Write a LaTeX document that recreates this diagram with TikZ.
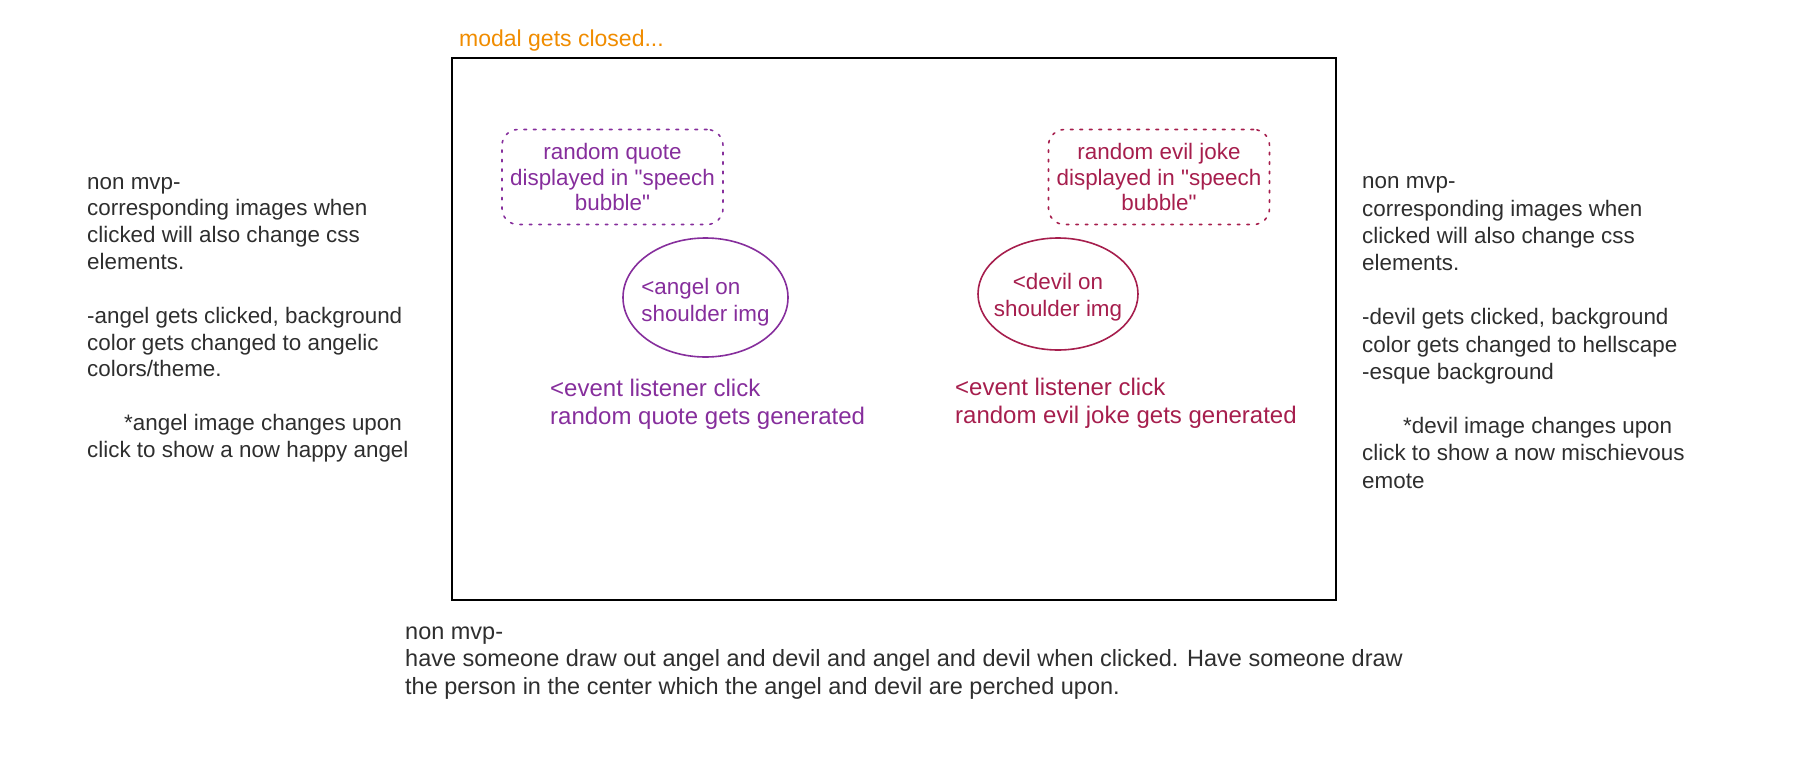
\documentclass[tikz,border=0pt]{standalone}
\usepackage{fontspec}
\setmainfont{Liberation Sans}[Ligatures=TeXOff]
\usetikzlibrary{shapes.geometric}
\definecolor{inkgray}{HTML}{2E2E2E}
\definecolor{angelpurple}{HTML}{862E9C}
\definecolor{devilred}{HTML}{A61E4D}
\definecolor{noteorange}{HTML}{F08C00}
\tikzset{
  note/.style={inner sep=0pt, align=left, text=inkgray, font={\fontsize{22.4}{26.85}\selectfont}},
  bubble/.style={draw, rounded corners=16pt, line width=1.6pt, dash pattern=on 2.5pt off 7pt, line cap=round,
    minimum width=221pt, minimum height=95pt, inner sep=0pt, align=center, font={\fontsize{22.4}{25.5}\selectfont}},
  imgcircle/.style={draw, ellipse, line width=1.6pt, inner sep=0pt},
  imgtext/.style={inner sep=0pt, font={\fontsize{22.4}{27}\selectfont}},
  eventtext/.style={inner sep=0pt, align=left, font={\fontsize{24}{28}\selectfont}},
  frame/.style={draw=black, line width=2.2pt, inner sep=0pt}
}
\begin{document}
\begin{tikzpicture}[x=1pt, y=-1pt]
\useasboundingbox (0,0) rectangle (1807,763);
% modal frame
\node[frame, minimum width=884pt, minimum height=542pt] (modal) at (894,329) {};
\node[anchor=base west, inner sep=0pt, text=noteorange, font={\fontsize{23}{28}\selectfont}] (title) at (459,46) {modal gets closed...};
% angel side
\node[bubble, draw=angelpurple, text=angelpurple] (quote) at (612.5,177) {random quote\\displayed in "speech\\bubble"};
\node[imgcircle, draw=angelpurple, minimum width=165pt, minimum height=119pt] (angel) at (705.5,297.5) {};
\node[imgtext, text=angelpurple, align=left, anchor=center] (angeltext) at ([yshift=-5pt]angel.center) {<angel on\\shoulder img};
\node[eventtext, text=angelpurple, anchor=base west] (angelevent) at (550,424) {<event listener click\\random quote gets generated};
% devil side
\node[bubble, draw=devilred, text=devilred] (joke) at (1159,177) {random evil joke\\displayed in "speech\\bubble"};
\node[imgcircle, draw=devilred, minimum width=160pt, minimum height=112pt] (devil) at (1058,294) {};
\node[imgtext, text=devilred, align=center, anchor=center] (deviltext) at ([yshift=-3pt]devil.center) {<devil on\\shoulder img};
\node[eventtext, text=devilred, anchor=base west] (devilevent) at (955,423) {<event listener click\\random evil joke gets generated};
% left notes
\node[note, anchor=base west] (leftnote) at (87,457.5) {non mvp-\\corresponding images when\\clicked will also change css\\elements.\\[26.85pt]-angel gets clicked, background\\color gets changed to angelic\\colors/theme.\\[26.85pt]\hspace*{37pt}*angel image changes upon\\click to show a now happy angel};
% right notes
\node[note, anchor=base west, font={\fontsize{22.4}{27.2}\selectfont}] (rightnote) at (1362,488) {non mvp-\\corresponding images when\\clicked will also change css\\elements.\\[27.2pt]-devil gets clicked, background\\color gets changed to hellscape\\-esque background\\[27.2pt]\hspace*{41pt}*devil image changes upon\\click to show a now mischievous\\emote};
% bottom note
\node[note, anchor=base west, font={\fontsize{23.5}{27.5}\selectfont}] (bottomnote) at (405,694) {non mvp-\\have someone draw out angel and devil and angel and devil when clicked. Have someone draw\\the person in the center which the angel and devil are perched upon.};
\end{tikzpicture}
\end{document}
